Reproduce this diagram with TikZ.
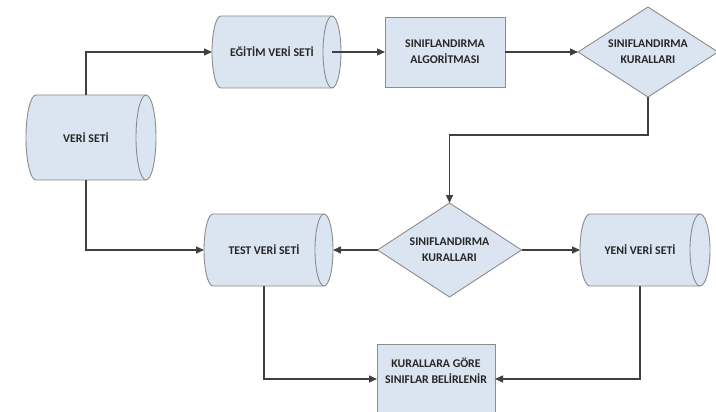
\documentclass[tikz,border=0pt]{standalone}
\usepackage{fontspec}
\setmainfont{Carlito}
\usetikzlibrary{shapes.geometric,arrows.meta,backgrounds}

\definecolor{boxfill}{HTML}{DBE5F1}
\definecolor{boxline}{HTML}{8C8C8C}
\definecolor{wire}{HTML}{404040}
\definecolor{ink}{HTML}{262626}

% Horizontal data-store drum around a node: the node spans from the
% left bulge to the centre of the end ellipse.
% #1 node name, #2 x radius of the ellipses, #3 half height
\newcommand\drumoutline[3]{%
  \filldraw[drumbody] ([xshift=#2]#1.north west)
    arc[start angle=90,end angle=270,x radius=#2,y radius=#3]
    -- (#1.south east)
    arc[start angle=-90,end angle=90,x radius=#2,y radius=#3]
    -- cycle;
  \draw[drumbody,fill=none] (#1.north east)
    arc[start angle=90,end angle=270,x radius=#2,y radius=#3];
}

\begin{document}
\begin{tikzpicture}[x=1pt,y=-1pt,
  txt/.style={font=\fontsize{11.8}{16}\selectfont\bfseries, text=ink, align=center},
  drum/.style={txt, rectangle, outer sep=0pt, minimum width=120pt, minimum height=72pt},
  drumbody/.style={fill=boxfill, draw=boxline, line width=0.9pt},
  proc/.style={txt, rectangle, outer sep=0pt, fill=boxfill, draw=boxline, line width=0.9pt},
  decide/.style={txt, diamond, aspect=1.55, inner sep=1pt, outer sep=0pt,
    fill=boxfill, draw=boxline, line width=0.9pt},
  conn/.style={draw=wire, line width=1.4pt, -{Triangle[length=8pt,width=7pt]}}
]
\useasboundingbox (0,0) rectangle (716,412);

% data sets
\node[drum, minimum height=85pt] (vs) at (86,137.5) {VERİ SETİ};
\node[drum] (egt) at (272,52) {EĞİTİM VERİ SETİ};
\node[drum] (tvs) at (264,250) {TEST VERİ SETİ};
\node[drum] (yvs) at (640,250) {YENİ VERİ SETİ};

% processes and rule sets
\node[proc, minimum width=120pt, minimum height=70pt] (alg) at (445,52)
  {SINIFLANDIRMA\\ALGORİTMASI};
\node[decide, minimum width=140pt, minimum height=90pt] (k1) at (648,52)
  {SINIFLANDIRMA\\KURALLARI};
\node[decide, minimum width=144pt, minimum height=94pt] (k2) at (449.5,250)
  {SINIFLANDIRMA\\KURALLARI};
\node[proc, minimum width=118pt, minimum height=70pt, text depth=17pt] (sb) at (436,379)
  {KURALLARA GÖRE\\SINIFLAR BELİRLENİR};

\begin{scope}[on background layer]
  \drumoutline{vs}{10pt}{42.5pt}
  \drumoutline{egt}{9pt}{36pt}
  \drumoutline{tvs}{9pt}{36pt}
  \drumoutline{yvs}{10pt}{36pt}
\end{scope}

\coordinate (tvs-cap) at ([xshift=9pt]tvs.east);

% flow
\draw[conn] (vs.north) |- (egt.west);
\draw[conn] (egt.east) -- (alg.west);
\draw[conn] (alg.east) -- (k1.west);
\draw[conn] (k1.south) -- ++(0,38) -| (k2.north);
\draw[conn] (vs.south) |- (tvs.west);
\draw[conn] (k2.west) -- (tvs-cap);
\draw[conn] (k2.east) -- (yvs.west);
\draw[conn] (tvs.south) |- (sb.west);
\draw[conn] (yvs.south) |- (sb.east);
\end{tikzpicture}
\end{document}
